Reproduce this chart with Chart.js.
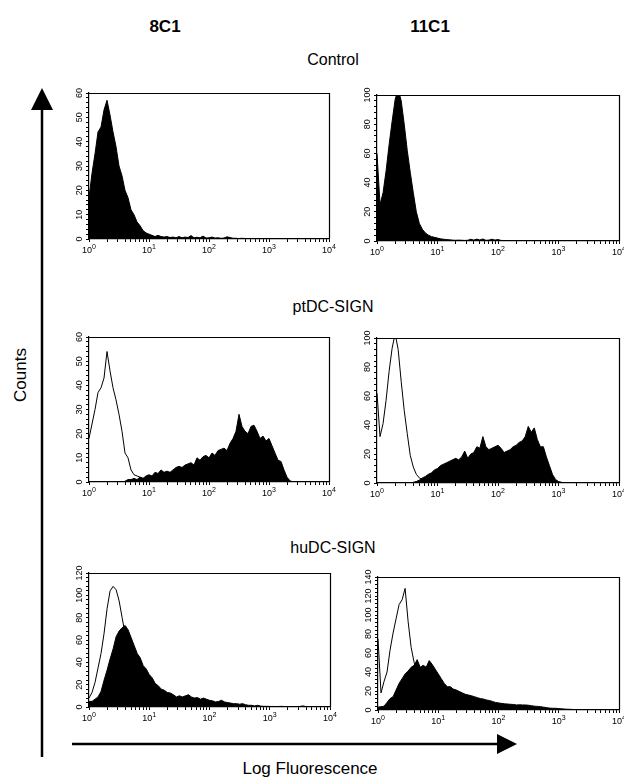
<!DOCTYPE html>
<html><head><meta charset="utf-8">
<script src="https://cdn.jsdelivr.net/npm/chart.js@4.4.1/dist/chart.umd.min.js"></script>
<style>
html,body{margin:0;padding:0;background:#fff;}
#root{position:relative;width:624px;height:778px;overflow:hidden;font-family:"Liberation Sans",Arial,Helvetica,sans-serif;color:#000;background:#fff;}
.t{position:absolute;white-space:nowrap;transform:translate(-50%,-50%);line-height:1;}
canvas{position:absolute;}
</style></head><body><div id="root">
<svg width="624" height="778" style="position:absolute;left:0;top:0">
  <line x1="42" y1="104" x2="42" y2="757" stroke="#000" stroke-width="2.5"/>
  <polygon points="42,88 31,110 53,110" fill="#000"/>
  <line x1="72" y1="744" x2="500" y2="744" stroke="#000" stroke-width="2.5"/>
  <polygon points="517,744 497,734 497,754" fill="#000"/>
</svg>
<div class="t" style="left:165px;top:26px;font-weight:bold;font-size:17px">8C1</div>
<div class="t" style="left:430px;top:26px;font-weight:bold;font-size:17px">11C1</div>
<div class="t" style="left:333px;top:60px;font-size:16px">Control</div>
<div class="t" style="left:333px;top:307px;font-size:16px">ptDC-SIGN</div>
<div class="t" style="left:333px;top:548px;font-size:16px">huDC-SIGN</div>
<div class="t" style="left:20px;top:375px;font-size:17px;transform:translate(-50%,-50%) rotate(-90deg)">Counts</div>
<div class="t" style="left:310px;top:768px;font-size:17px">Log Fluorescence</div>
</div>
<script>
// ---- data ----
// bin positions along the x axis, in decades (log10 of fluorescence)
const logChannels = [0,0.05,0.1,0.15,0.2,0.25,0.3,0.35,0.4,0.45,
 0.5,0.55,0.6,0.65,0.7,0.75,0.8,0.85,0.9,0.95,
 1,1.05,1.1,1.15,1.2,1.25,1.3,1.35,1.4,1.45,
 1.5,1.55,1.6,1.65,1.7,1.75,1.8,1.85,1.9,1.95,
 2,2.05,2.1,2.15,2.2,2.25,2.3,2.35,2.4,2.45,
 2.5,2.55,2.6,2.65,2.7,2.75,2.8,2.85,2.9,2.95,
 3,3.05,3.1,3.15,3.2,3.25,3.3,3.35,3.4,3.45,
 3.5,3.55,3.6,3.65,3.7,3.75,3.8,3.85,3.9,3.95,
 4];

const ctrl8C1Filled = [17,27,35,44,46,53,57,51,44,38,
 30,26,20,17,12,10,7,5.5,3.5,2.5,
 2,1.5,1,1.5,1,0.8,1,0.6,0.8,0.5,
 1,0.5,0.8,0.6,1.4,0.5,0.7,0.5,1.2,0.4,
 0.5,0.8,0.4,0.5,0.3,0.4,0.9,0.6,0.3,0.3,
 0.2,0.3,0.2,0.2,0.2,0.1,0.1,0.1,0,0,
 0,0,0,0,0,0,0,0,0,0,
 0,0,0,0,0,0,0,0,0,0,
 0];

const ctrl11C1Filled = [60,25,33,48,66,82,97,104,96,80,
 62,47,33,20,12,8,5.5,4,3,2.5,
 2,1.5,1.2,1,0.8,0.6,0.5,0.6,0.5,0.4,
 0.5,1.2,0.6,1.3,0.7,1.4,0.5,0.6,1.2,0.6,
 1,0.4,0.3,0.3,0.2,0.2,0.2,0.1,0.1,0.1,
 0.1,0.1,0,0,0,0,0,0,0,0,
 0,0,0,0,0,0,0,0,0,0,
 0,0,0,0,0,0,0,0,0,0,
 0];

const pt8C1Outline = [18,24,30,37,39,43,54,46,39,34,
 28,21,12,10,5,3,2.5,2,1.5,1,
 1,1,0.8,0.8,0.6,0.6,0.5,0.5,0.4,0.4,
 0.4,0.3,0.3,0.3,0.2,0.2,0.2,0.2,0.2,0.2,
 0.1,0.1,0.1,0.1,0.1,0.1,0.1,0.1,0.1,0.1,
 0,0,0,0,0,0,0,0,0,0,
 0,0,0,0,0,0,0,0,0,0,
 0,0,0,0,0,0,0,0,0,0,
 0];

const pt8C1Filled = [0,0,0,0,0,0,0,0,0,0,
 0,0,0.3,1,1,1.5,1,2,1.5,2.5,
 3,2.5,4,3.5,5,4,4.5,4,5,6,
 6.5,6,7,7.5,8,7,10,9,10.5,11,
 10,12,11,13,13.5,14,13,16,18,21,
 28,23,21,20,23,23.5,21,18,19,17,
 18,15,12,9,8.5,5,2,0.5,0,0,
 0,0,0,0,0,0,0,0,0,0,
 0];

const pt11C1Outline = [62,32,41,57,77,93,103,92,70,50,
 34,19,11,6,3.5,2.5,2,1.5,1,1,
 0.8,0.6,0.5,0.5,0.4,0.3,0.3,0.3,0.2,0.2,
 0.2,0.2,0.1,0.1,0.1,0.1,0.1,0.1,0.1,0.1,
 0,0,0,0,0,0,0,0,0,0,
 0,0,0,0,0,0,0,0,0,0,
 0,0,0,0,0,0,0,0,0,0,
 0,0,0,0,0,0,0,0,0,0,
 0];

const pt11C1Filled = [0,0,0,0,0,0,0,0,0,0,
 0,0,0.5,1,2,3.5,4.5,6,7,9,
 10,12,13,14,15,16,17,16,18,22,
 17,20,21,25,24,32,25,23,24,25,
 26,24,21,22,23,25,26,28,29,32,
 39,35,38,30,25,25,18,12,6,2.5,
 1,0.5,0,0,0,0,0,0,0,0,
 0,0,0,0,0,0,0,0,0,0,
 0];

const hu8C1Outline = [8,13,22,35,48,66,88,104,108,105,
 95,80,65,50,40,30,22,16,12,9,
 7,6,5,4,3.5,3,2.5,2,2,1.5,
 1.5,1.2,1,1,0.8,0.8,0.6,0.6,0.5,0.5,
 0.4,0.4,0.3,0.3,0.3,0.2,0.2,0.2,0.2,0.2,
 0.1,0.1,0.1,0.1,0.1,0.1,0.1,0.1,0.1,0.1,
 0,0,0,0,0,0,0,0,0,0,
 0,0,0,0,0,0,0,0,0,0,
 0];

const hu8C1Filled = [5,5,7,9,14,24,33,43,52,63,
 68,71,73,69,62,55,48,44,37,34,
 29,26,21,19,16,15,13,12.5,11,9,
 10,9,10,11,9,8,8.5,7,8,7,
 6,5.5,4.5,5,6,4.5,4,3.5,3,3,
 2.5,3,2,1.5,1.5,1,1.5,0.8,0.6,0.6,
 0.5,0.5,0.4,0.5,0.6,0.4,0.3,0.3,0.3,0.3,
 0.5,1,0.4,0.3,0.3,0.2,0.2,0.2,0.2,0.2,
 0.2];

const hu11C1Outline = [75,18,30,40,63,81,96,111,116,128,
 93,66,50,38,28,20,14,10,7,5,
 4,3.5,3,2.5,2,1.8,1.5,1.3,1,1,
 0.8,0.8,0.6,0.6,0.5,0.5,0.4,0.4,0.3,0.3,
 0.2,0.2,0.2,0.2,0.2,0.1,0.1,0.1,0.1,0.1,
 0,0,0,0,0,0,0,0,0,0,
 0,0,0,0,0,0,0,0,0,0,
 0,0,0,0,0,0,0,0,0,0,
 0];

const hu11C1Filled = [3,3.5,4,8,12,14,21,28,33,38,
 41,45,47,53,45,47,45,52,48,43,
 38,33,28,24.5,24.5,22,21,19.5,18,16.5,
 15.8,15,14,13,12,11.5,10.5,10,9,8,
 7.5,7,6.5,6.3,6,5.8,5.3,5.5,5.3,5.3,
 5,4.5,4,3.8,3.5,3,2.5,2,1.8,1.8,
 1.5,1.2,1,0.8,0.7,0.5,0.4,0.3,0.3,0.2,
 0.2,0.2,0.1,0.1,0.1,0,0,0,0,0,
 0];

// tick labels
const xDecades = [0,1,2,3,4];
const xTickBase = '10';
const xTickExponents = ['0','1','2','3','4'];
const yTicks8C1Ctrl = [0,10,20,30,40,50,60];
const yTicks11C1Ctrl = [0,20,40,60,80,100];
const yTicks8C1Pt = [0,10,20,30,40,50,60];
const yTicks11C1Pt = [0,20,40,60,80,100];
const yTicks8C1Hu = [0,20,40,60,80,100,120];
const yTicks11C1Hu = [0,20,40,60,80,100,120,140];

// ---- layout ----
const PAD_L = 24, PAD_T = 10, PAD_R = 12, PAD_B = 16;
const panels = [
  {box:[89,93,329,239],  outline:null,          filled:ctrl8C1Filled,  yTicks:yTicks8C1Ctrl,  minor:2},
  {box:[377,95,619,241], outline:null,          filled:ctrl11C1Filled, yTicks:yTicks11C1Ctrl, minor:4},
  {box:[89,337,329,482], outline:pt8C1Outline,  filled:pt8C1Filled,    yTicks:yTicks8C1Pt,    minor:2},
  {box:[377,338,619,483],outline:pt11C1Outline, filled:pt11C1Filled,   yTicks:yTicks11C1Pt,   minor:4},
  {box:[89,573,330,707], outline:hu8C1Outline,  filled:hu8C1Filled,    yTicks:yTicks8C1Hu,    minor:4},
  {box:[378,577,619,710],outline:hu11C1Outline, filled:hu11C1Filled,   yTicks:yTicks11C1Hu,   minor:4}
];

const FONT = '"Liberation Sans", Arial, Helvetica, sans-serif';

const panelDecor = {
  id: 'panelDecor',
  afterDraw(chart, args, opts) {
    const {ctx, chartArea: a, scales: {x, y}} = chart;
    ctx.save();
    ctx.strokeStyle = '#000';
    ctx.lineWidth = 1.2;
    ctx.beginPath();
    ctx.moveTo(a.left, a.top + 0.5);
    ctx.lineTo(a.right + 0.5, a.top + 0.5);
    ctx.lineTo(a.right + 0.5, a.bottom);
    ctx.stroke();
    ctx.fillStyle = '#000';
    ctx.textAlign = 'center';
    ctx.textBaseline = 'middle';
    ctx.font = '9px ' + FONT;
    for (const v of opts.yLabels) {
      const py = y.getPixelForValue(v);
      ctx.save();
      ctx.translate(a.left - 9, py);
      ctx.rotate(-Math.PI / 2);
      ctx.fillText(String(v), 0, 0);
      ctx.restore();
    }
    ctx.textAlign = 'left';
    ctx.textBaseline = 'alphabetic';
    xDecades.forEach((d, i) => {
      const px = x.getPixelForValue(d);
      ctx.font = '9px ' + FONT;
      const w1 = ctx.measureText(xTickBase).width;
      ctx.font = '7px ' + FONT;
      const w2 = ctx.measureText(xTickExponents[i]).width;
      const sx = px - (w1 + w2) / 2;
      const by = a.bottom + 14;
      ctx.font = '9px ' + FONT;
      ctx.fillText(xTickBase, sx, by);
      ctx.font = '7px ' + FONT;
      ctx.fillText(xTickExponents[i], sx + w1, by - 4);
    });
    ctx.restore();
  }
};

function toPts(arr) { return logChannels.map((x, i) => ({x: x, y: arr[i]})); }

function xTickValues() {
  const out = [];
  for (let d = 0; d < 4; d++) {
    for (let k = 1; k < 10; k++) out.push(d + Math.log10(k));
  }
  out.push(4);
  return out;
}

const root = document.getElementById('root');
panels.forEach(p => {
  const [l, t, r, b] = p.box;
  const W = (r - l) + PAD_L + PAD_R;
  const H = (b - t) + PAD_T + PAD_B;
  const cv = document.createElement('canvas');
  cv.width = W; cv.height = H;
  cv.style.left = (l - PAD_L) + 'px';
  cv.style.top = (t - PAD_T) + 'px';
  cv.style.width = W + 'px';
  cv.style.height = H + 'px';
  root.appendChild(cv);
  const yMax = p.yTicks[p.yTicks.length - 1];
  const datasets = [];
  if (p.outline) {
    datasets.push({data: toPts(p.outline), borderColor: '#000', borderWidth: 1, fill: false, pointRadius: 0, tension: 0});
  }
  datasets.push({data: toPts(p.filled), borderColor: '#000', backgroundColor: '#000', borderWidth: 1, fill: 'origin', pointRadius: 0, tension: 0});
  const gridOpts = {drawOnChartArea: false, drawTicks: true, tickLength: 3, color: '#000', lineWidth: 1};
  new Chart(cv, {
    type: 'line',
    data: {datasets},
    options: {
      responsive: false, animation: false, devicePixelRatio: 1,
      layout: {padding: {left: 0, top: PAD_T, right: PAD_R, bottom: 0}},
      plugins: {legend: {display: false}, tooltip: {enabled: false}, panelDecor: {yLabels: p.yTicks}},
      scales: {
        x: {
          type: 'linear', min: 0, max: 4,
          afterBuildTicks: s => { s.ticks = xTickValues().map(v => ({value: v})); },
          afterFit: s => { s.height = PAD_B; },
          ticks: {display: false},
          grid: gridOpts,
          border: {color: '#000', width: 1.2}
        },
        y: {
          type: 'linear', min: 0, max: yMax,
          afterBuildTicks: s => {
            const arr = [];
            for (let v = 0; v <= yMax + 1e-9; v += p.minor) arr.push({value: v});
            s.ticks = arr;
          },
          afterFit: s => { s.width = PAD_L; },
          ticks: {display: false},
          grid: gridOpts,
          border: {color: '#000', width: 1.2}
        }
      }
    },
    plugins: [panelDecor]
  });
});
</script>
</body></html>
